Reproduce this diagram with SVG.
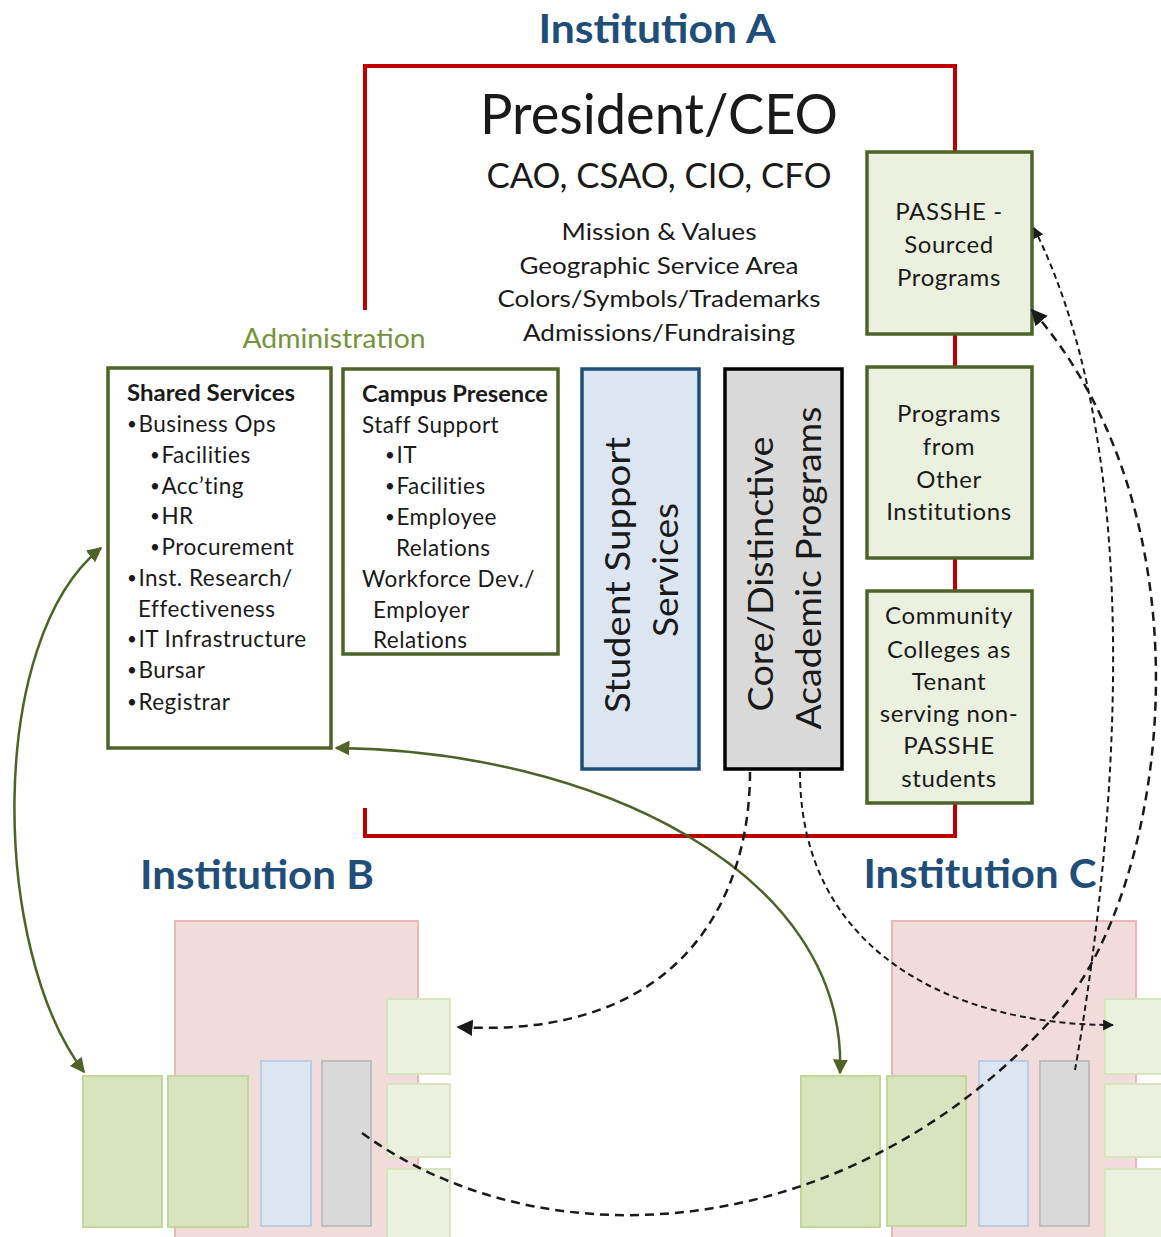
<svg xmlns="http://www.w3.org/2000/svg" width="1161" height="1237" viewBox="0 0 1161 1237">
<style>
text{font-family:Lato,"Open Sans","Liberation Sans",sans-serif;fill:#1a1a1a}
.title{font-size:40px;font-weight:bold;fill:#1F4E79;text-anchor:middle}
.ctr{text-anchor:middle}
.item{font-size:22.5px;letter-spacing:0.5px}
.bold{font-weight:bold;letter-spacing:0}
.b{font-size:17px;letter-spacing:1.5px}
.rbox{fill:#EBF1DE;stroke:#4F6228;stroke-width:3.5}
.rt{font-size:24px;letter-spacing:0.6px;text-anchor:middle}
.rot{font-size:35px;text-anchor:middle}
.pink{fill:#F2DCDB;stroke:#E6B9B8;stroke-width:2}
.g1{fill:#D7E4BD;stroke:#C3D69B;stroke-width:2}
.g2{fill:#EBF1DE;stroke:#D7E4BD;stroke-width:2}
.bl{fill:#DCE6F2;stroke:#B9CDE5;stroke-width:2}
.gr{fill:#D9D9D9;stroke:#BFBFBF;stroke-width:2}
.gline{fill:none;stroke:#4F6228;stroke-width:2.5}
.dash1{fill:none;stroke:#1a1a1a;stroke-width:2.5;stroke-dasharray:9 6}
.dash2{fill:none;stroke:#1a1a1a;stroke-width:2;stroke-dasharray:6 4}
</style>
<defs>
<marker id="ga" viewBox="0 0 10 10" refX="9" refY="5" markerWidth="6" markerHeight="6" orient="auto-start-reverse" markerUnits="strokeWidth"><path d="M0,0 L10,5 L0,10 z" fill="#4F6228"/></marker>
<marker id="ka" viewBox="0 0 10 10" refX="9" refY="5" markerWidth="5.5" markerHeight="5.5" orient="auto" markerUnits="strokeWidth"><path d="M0,0 L10,5 L0,10 z" fill="#1a1a1a"/></marker>
<marker id="kb" viewBox="0 0 10 10" refX="9" refY="5" markerWidth="6.5" markerHeight="6.5" orient="auto" markerUnits="strokeWidth"><path d="M0,0 L10,5 L0,10 z" fill="#1a1a1a"/></marker>
</defs>

<text class="title" x="657" y="43" textLength="237" lengthAdjust="spacingAndGlyphs">Institution A</text>
<text class="title" x="257" y="889" textLength="234" lengthAdjust="spacingAndGlyphs">Institution B</text>
<text class="title" x="980" y="888" textLength="233" lengthAdjust="spacingAndGlyphs">Institution C</text>

<g id="institution-a-frame">
<path d="M365 310 L365 66 L955 66 L955 836 L365 836 L365 808" fill="none" stroke="#C00000" stroke-width="4"/>
</g>

<g id="leadership">
<text class="ctr" x="659" y="134" font-size="56" textLength="358" lengthAdjust="spacingAndGlyphs">President/CEO</text>
<text class="ctr" x="659" y="188" font-size="35" textLength="345" lengthAdjust="spacingAndGlyphs">CAO, CSAO, CIO, CFO</text>
<text class="ctr" x="659" y="240" font-size="24" textLength="195" lengthAdjust="spacingAndGlyphs">Mission &amp; Values</text>
<text class="ctr" x="659" y="274" font-size="24" textLength="279" lengthAdjust="spacingAndGlyphs">Geographic Service Area</text>
<text class="ctr" x="659" y="307" font-size="24" textLength="323" lengthAdjust="spacingAndGlyphs">Colors/Symbols/Trademarks</text>
<text class="ctr" x="659" y="341" font-size="24" textLength="272" lengthAdjust="spacingAndGlyphs">Admissions/Fundraising</text>
</g>

<text x="334" y="348" class="ctr" font-size="26" style="fill:#76923C" textLength="183" lengthAdjust="spacingAndGlyphs">Administration</text>

<g id="shared-services">
<rect x="108" y="368" width="223" height="380" fill="#fff" stroke="#4F6228" stroke-width="3.5"/>
<text class="item bold" x="127" y="401" textLength="168" lengthAdjust="spacingAndGlyphs">Shared Services</text>
<text class="item" x="127" y="432"><tspan class="b" baseline-shift="2">•</tspan>Business Ops</text>
<text class="item" x="150" y="463"><tspan class="b" baseline-shift="2">•</tspan>Facilities</text>
<text class="item" x="150" y="494"><tspan class="b" baseline-shift="2">•</tspan>Acc’ting</text>
<text class="item" x="150" y="524"><tspan class="b" baseline-shift="2">•</tspan>HR</text>
<text class="item" x="150" y="555"><tspan class="b" baseline-shift="2">•</tspan>Procurement</text>
<text class="item" x="127" y="586"><tspan class="b" baseline-shift="2">•</tspan>Inst. Research/</text>
<text class="item" x="138" y="617">Effectiveness</text>
<text class="item" x="127" y="647"><tspan class="b" baseline-shift="2">•</tspan>IT Infrastructure</text>
<text class="item" x="127" y="678"><tspan class="b" baseline-shift="2">•</tspan>Bursar</text>
<text class="item" x="127" y="710"><tspan class="b" baseline-shift="2">•</tspan>Registrar</text>
</g>

<g id="campus-presence">
<rect x="343" y="369" width="215" height="285" fill="#fff" stroke="#4F6228" stroke-width="3.5"/>
<text class="item bold" x="362" y="402" textLength="186" lengthAdjust="spacingAndGlyphs">Campus Presence</text>
<text class="item" x="362" y="433">Staff Support</text>
<text class="item" x="385" y="463"><tspan class="b" baseline-shift="2">•</tspan>IT</text>
<text class="item" x="385" y="494"><tspan class="b" baseline-shift="2">•</tspan>Facilities</text>
<text class="item" x="385" y="525"><tspan class="b" baseline-shift="2">•</tspan>Employee</text>
<text class="item" x="396" y="556">Relations</text>
<text class="item" x="362" y="587">Workforce Dev./</text>
<text class="item" x="373" y="618">Employer</text>
<text class="item" x="373" y="648">Relations</text>
</g>

<g id="student-support">
<rect x="582" y="369" width="117" height="400" fill="#DCE6F2" stroke="#1F4E79" stroke-width="3.5"/>
<text class="rot" transform="translate(630,575) rotate(-90)" textLength="276" lengthAdjust="spacingAndGlyphs">Student Support</text>
<text class="rot" transform="translate(678,570) rotate(-90)" textLength="134" lengthAdjust="spacingAndGlyphs">Services</text>
</g>

<g id="core-programs">
<rect x="725" y="369" width="117" height="400" fill="#D9D9D9" stroke="#000" stroke-width="3.5"/>
<text class="rot" transform="translate(773,574) rotate(-90)" textLength="275" lengthAdjust="spacingAndGlyphs">Core/Distinctive</text>
<text class="rot" transform="translate(821,568) rotate(-90)" textLength="323" lengthAdjust="spacingAndGlyphs">Academic Programs</text>
</g>

<g id="passhe-sourced">
<rect class="rbox" x="867" y="152" width="165" height="182"/>
<text class="rt" x="949" y="220">PASSHE -</text>
<text class="rt" x="949" y="253">Sourced</text>
<text class="rt" x="949" y="286">Programs</text>
</g>

<g id="other-institutions">
<rect class="rbox" x="867" y="367" width="165" height="191"/>
<text class="rt" x="949" y="422">Programs</text>
<text class="rt" x="949" y="455">from</text>
<text class="rt" x="949" y="488">Other</text>
<text class="rt" x="949" y="520">Institutions</text>
</g>

<g id="community-colleges">
<rect class="rbox" x="867" y="591" width="165" height="212"/>
<text class="rt" x="949" y="624">Community</text>
<text class="rt" x="949" y="658">Colleges as</text>
<text class="rt" x="949" y="690">Tenant</text>
<text class="rt" x="949" y="722">serving non-</text>
<text class="rt" x="949" y="754">PASSHE</text>
<text class="rt" x="949" y="787">students</text>
</g>

<g id="institution-b">
<rect class="pink" x="175" y="921" width="243" height="330"/>
<rect class="g1" id="b-shared" x="83" y="1076" width="79" height="151"/>
<rect class="g1" id="b-campus" x="168" y="1076" width="80" height="151"/>
<rect class="bl" id="b-student" x="261" y="1061" width="50" height="165"/>
<rect class="gr" id="b-core" x="322" y="1061" width="49" height="165"/>
<rect class="g2" id="b-passhe" x="387" y="999" width="63" height="75"/>
<rect class="g2" id="b-other" x="387" y="1084" width="63" height="73"/>
<rect class="g2" id="b-cc" x="387" y="1169" width="63" height="80"/>
</g>

<g id="institution-c">
<rect class="pink" x="892" y="921" width="244" height="330"/>
<rect class="g1" id="c-shared" x="801" y="1076" width="79" height="151"/>
<rect class="g1" id="c-campus" x="887" y="1076" width="79" height="150"/>
<rect class="bl" id="c-student" x="979" y="1061" width="49" height="165"/>
<rect class="gr" id="c-core" x="1040" y="1061" width="49" height="165"/>
<rect class="g2" id="c-passhe" x="1105" y="999" width="70" height="75"/>
<rect class="g2" id="c-other" x="1105" y="1084" width="70" height="73"/>
<rect class="g2" id="c-cc" x="1105" y="1169" width="70" height="80"/>
</g>

<g id="connectors">
<path class="gline" d="M101 548 C-14 640 -9 950 84 1072" marker-start="url(#ga)" marker-end="url(#ga)"/>
<path class="gline" d="M336 748 C590 750 848 870 840 1073" marker-start="url(#ga)" marker-end="url(#ga)"/>
<path class="dash1" d="M750 772 C750 900 680 1040 458 1027" marker-end="url(#kb)"/>
<path class="dash2" d="M800 772 C800 950 950 1025 1113 1025" marker-end="url(#ka)"/>
<path class="dash1" d="M362 1133 C550 1270 860 1240 1060 1010 C1170 880 1215 520 1032 310" marker-end="url(#kb)"/>
<path class="dash2" d="M1075 1070 C1105 900 1160 480 1034 228" marker-end="url(#ka)"/>
</g>
</svg>
